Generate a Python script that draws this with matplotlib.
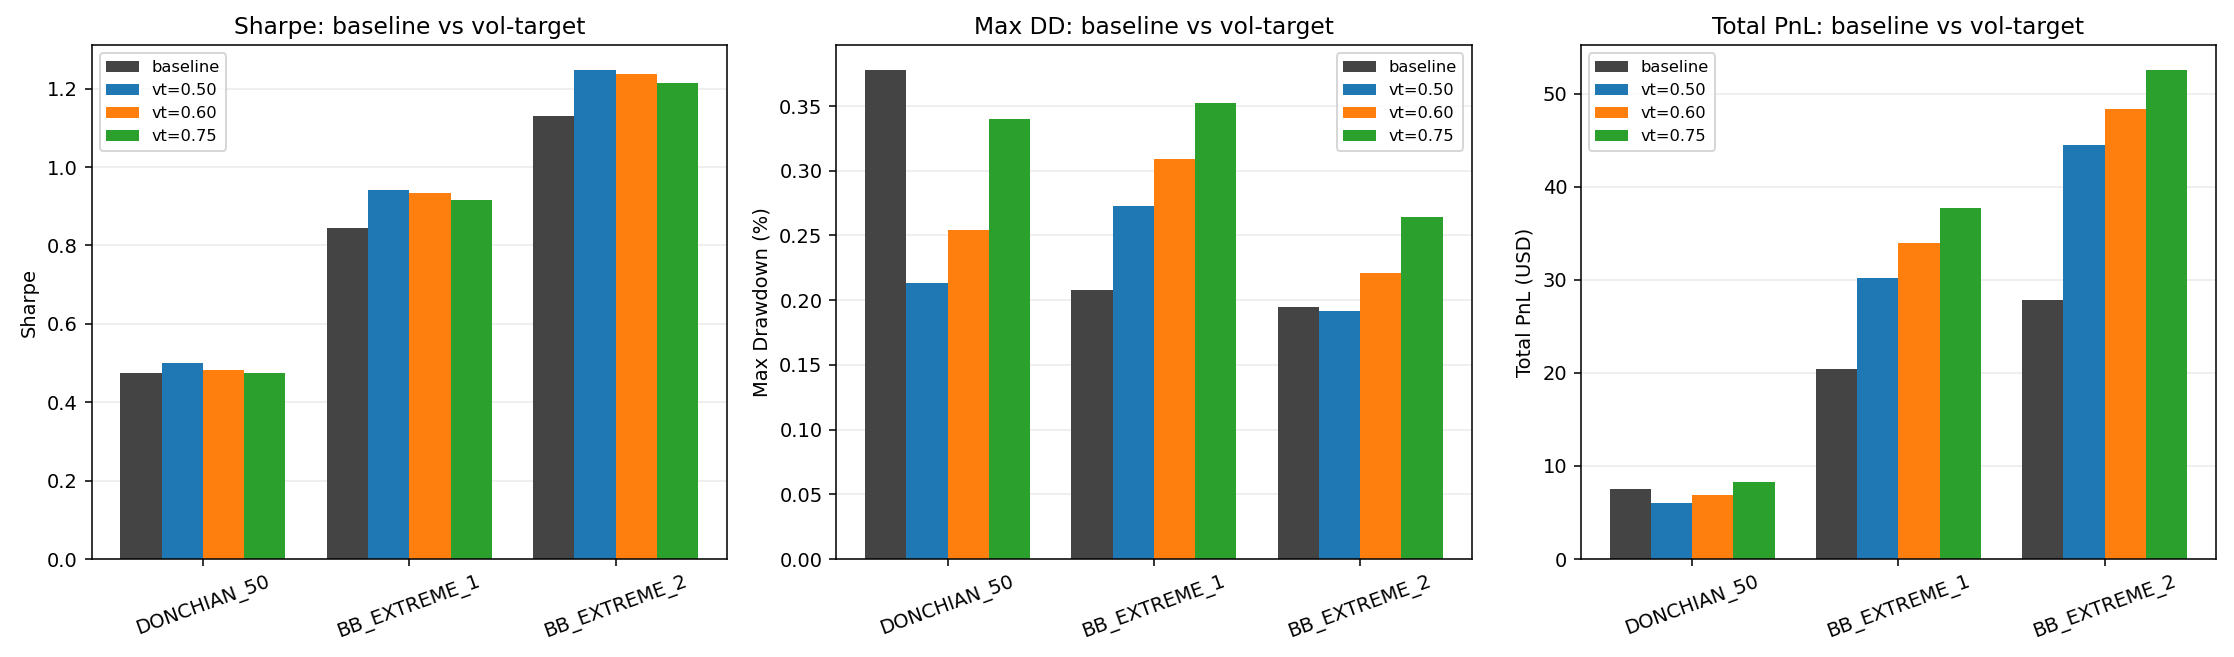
import matplotlib
matplotlib.use("Agg")
import matplotlib.pyplot as plt
import numpy as np

strategies = ["DONCHIAN_50", "BB_EXTREME_1", "BB_EXTREME_2"]
series = ["baseline", "vt=0.50", "vt=0.60", "vt=0.75"]
colors = ["#444444", "#1f77b4", "#ff7f0e", "#2ca02c"]

# rows = strategies, cols = series
sharpe = [
    [0.475, 0.500, 0.483, 0.475],
    [0.845, 0.941, 0.934, 0.916],
    [1.130, 1.248, 1.237, 1.214],
]
max_dd = [
    [0.378, 0.213, 0.254, 0.340],
    [0.208, 0.273, 0.309, 0.352],
    [0.195, 0.192, 0.221, 0.264],
]
total_pnl = [
    [7.54, 6.07, 6.92, 8.32],
    [20.45, 30.21, 33.99, 37.72],
    [27.85, 44.49, 48.37, 52.55],
]

panels = [
    ("Sharpe: baseline vs vol-target", "Sharpe", sharpe, "upper left"),
    ("Max DD: baseline vs vol-target", "Max Drawdown (%)", max_dd, "upper right"),
    ("Total PnL: baseline vs vol-target", "Total PnL (USD)", total_pnl, "upper left"),
]

fig, axes = plt.subplots(1, 3, figsize=(2234 / 140, 657 / 140), dpi=140)
x = np.arange(len(strategies))
width = 0.2

for ax, (title, ylabel, data, loc) in zip(axes, panels):
    data = np.asarray(data)
    for j, name in enumerate(series):
        ax.bar(x + (j - 1.5) * width, data[:, j], width, label=name, color=colors[j], zorder=2)
    ax.set_xticks(x)
    ax.set_xticklabels(strategies, rotation=20)
    ax.set_title(title, fontsize=12)
    ax.set_ylabel(ylabel)
    ax.grid(axis="y", alpha=0.25, zorder=0)
    ax.legend(loc=loc, fontsize="small")

fig.subplots_adjust(left=0.041, right=0.992, top=0.931, bottom=0.149, wspace=0.172)
fig.savefig("out.png", dpi=140)
